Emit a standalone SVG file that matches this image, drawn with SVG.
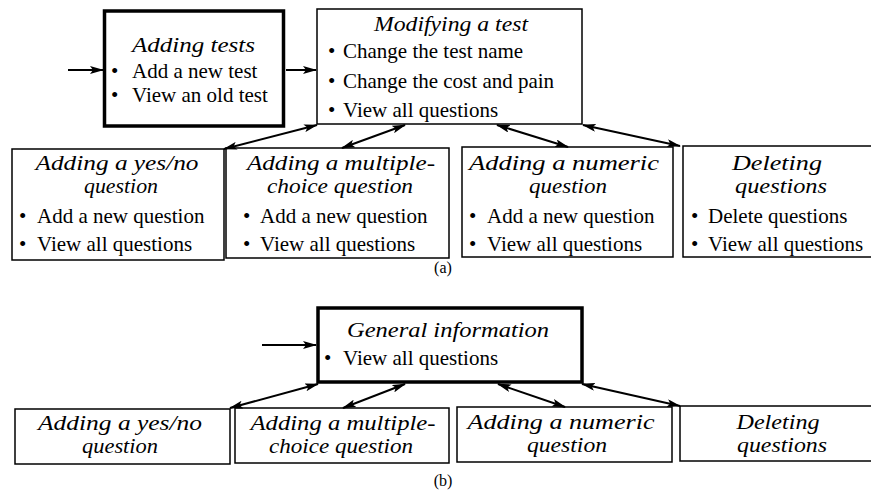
<svg xmlns="http://www.w3.org/2000/svg" width="871" height="493" viewBox="0 0 871 493">
<style>
.bg{fill:#fff}
.box{fill:#fff;stroke:#000;stroke-width:1.5}
.thick{fill:#fff;stroke:#000;stroke-width:3.5}
.t{font-family:"Liberation Serif","Times New Roman",serif;font-style:italic;font-size:20px;text-anchor:middle;fill:#000}
.b{font-family:"Liberation Serif","Times New Roman",serif;font-size:21px;fill:#000}
.cap{font-family:"Liberation Serif","Times New Roman",serif;font-size:16px;text-anchor:middle;fill:#000}
.c{fill:none;stroke:#000;stroke-width:2;marker-end:url(#ah)}
.d{fill:none;stroke:#000;stroke-width:2;marker-start:url(#ah);marker-end:url(#ah)}
</style>
<defs>
<marker id="ah" viewBox="0 0 14 8" refX="13" refY="4" markerWidth="14" markerHeight="8" markerUnits="userSpaceOnUse" orient="auto-start-reverse">
<path d="M0,0 L14,4 L0,8 L3,4 z" fill="#000"/>
</marker>
</defs>
<rect class="bg" x="0" y="0" width="871" height="493"/>

<g id="adding-tests">
<rect class="thick" x="104.5" y="11" width="179" height="115"/>
<text class="t" x="193.5" y="52" textLength="123" lengthAdjust="spacingAndGlyphs">Adding tests</text>
<text class="b" y="78"><tspan x="111">•</tspan><tspan x="132">Add a new test</tspan></text>
<text class="b" y="102"><tspan x="111">•</tspan><tspan x="132">View an old test</tspan></text>
</g>

<g id="modifying-test">
<rect class="box" x="317" y="9" width="265" height="115"/>
<text class="t" x="451" y="31" textLength="154" lengthAdjust="spacingAndGlyphs">Modifying a test</text>
<text class="b" y="58"><tspan x="328">•</tspan><tspan x="343">Change the test name</tspan></text>
<text class="b" y="88"><tspan x="328">•</tspan><tspan x="343">Change the cost and pain</tspan></text>
<text class="b" y="117"><tspan x="328">•</tspan><tspan x="343">View all questions</tspan></text>
</g>

<g id="a-yesno">
<rect class="box" x="12" y="149" width="212" height="111"/>
<text class="t" x="117" y="170" textLength="163" lengthAdjust="spacingAndGlyphs">Adding a yes/no</text>
<text class="t" x="121" y="193" textLength="74" lengthAdjust="spacingAndGlyphs">question</text>
<text class="b" y="223"><tspan x="19">•</tspan><tspan x="37">Add a new question</tspan></text>
<text class="b" y="251"><tspan x="19">•</tspan><tspan x="37">View all questions</tspan></text>
</g>

<g id="a-multiple">
<rect class="box" x="226" y="148" width="223" height="110"/>
<text class="t" x="341" y="170" textLength="188" lengthAdjust="spacingAndGlyphs">Adding a multiple-</text>
<text class="t" x="340" y="193" textLength="146" lengthAdjust="spacingAndGlyphs">choice question</text>
<text class="b" y="223"><tspan x="243">•</tspan><tspan x="260">Add a new question</tspan></text>
<text class="b" y="251"><tspan x="243">•</tspan><tspan x="260">View all questions</tspan></text>
</g>

<g id="a-numeric">
<rect class="box" x="462" y="147" width="211" height="110"/>
<text class="t" x="564" y="170" textLength="190" lengthAdjust="spacingAndGlyphs">Adding a numeric</text>
<text class="t" x="568" y="193" textLength="78" lengthAdjust="spacingAndGlyphs">question</text>
<text class="b" y="223"><tspan x="469">•</tspan><tspan x="487">Add a new question</tspan></text>
<text class="b" y="251"><tspan x="469">•</tspan><tspan x="487">View all questions</tspan></text>
</g>

<g id="a-deleting">
<rect class="box" x="683" y="146" width="190" height="111"/>
<text class="t" x="777" y="170" textLength="90" lengthAdjust="spacingAndGlyphs">Deleting</text>
<text class="t" x="781" y="193" textLength="92" lengthAdjust="spacingAndGlyphs">questions</text>
<text class="b" y="223"><tspan x="691">•</tspan><tspan x="708">Delete questions</tspan></text>
<text class="b" y="251"><tspan x="691">•</tspan><tspan x="708">View all questions</tspan></text>
</g>

<text id="caption-a" class="cap" x="443" y="273">(a)</text>

<g id="general-info">
<rect class="thick" x="318" y="308" width="264" height="74"/>
<text class="t" x="448" y="337" textLength="202" lengthAdjust="spacingAndGlyphs">General information</text>
<text class="b" y="365"><tspan x="324">•</tspan><tspan x="343">View all questions</tspan></text>
</g>

<g id="b-yesno">
<rect class="box" x="15" y="409" width="215" height="55"/>
<text class="t" x="120" y="430" textLength="164" lengthAdjust="spacingAndGlyphs">Adding a yes/no</text>
<text class="t" x="120" y="453" textLength="76" lengthAdjust="spacingAndGlyphs">question</text>
</g>

<g id="b-multiple">
<rect class="box" x="235" y="408" width="214" height="55"/>
<text class="t" x="343" y="430" textLength="185" lengthAdjust="spacingAndGlyphs">Adding a multiple-</text>
<text class="t" x="341" y="453" textLength="144" lengthAdjust="spacingAndGlyphs">choice question</text>
</g>

<g id="b-numeric">
<rect class="box" x="457" y="407" width="215" height="55"/>
<text class="t" x="561" y="429" textLength="187" lengthAdjust="spacingAndGlyphs">Adding a numeric</text>
<text class="t" x="567" y="452" textLength="80" lengthAdjust="spacingAndGlyphs">question</text>
</g>

<g id="b-deleting">
<rect class="box" x="680" y="406" width="193" height="55"/>
<text class="t" x="778" y="429" textLength="83" lengthAdjust="spacingAndGlyphs">Deleting</text>
<text class="t" x="782" y="452" textLength="90" lengthAdjust="spacingAndGlyphs">questions</text>
</g>

<text id="caption-b" class="cap" x="443" y="486">(b)</text>

<g id="connectors">
<line class="c" x1="68" y1="70" x2="103" y2="70"/>
<line class="c" x1="286" y1="70" x2="316" y2="70"/>
<line class="d" x1="317" y1="125" x2="224" y2="149"/>
<line class="d" x1="405" y1="125" x2="342" y2="148"/>
<line class="d" x1="497" y1="125" x2="568" y2="147"/>
<line class="d" x1="583" y1="125" x2="680" y2="146"/>
<line class="c" x1="262" y1="345" x2="316" y2="345"/>
<line class="d" x1="318" y1="384" x2="230" y2="408"/>
<line class="d" x1="405" y1="384" x2="343" y2="408"/>
<line class="d" x1="498" y1="384" x2="565" y2="407"/>
<line class="d" x1="582" y1="384" x2="680" y2="406"/>
</g>
</svg>
